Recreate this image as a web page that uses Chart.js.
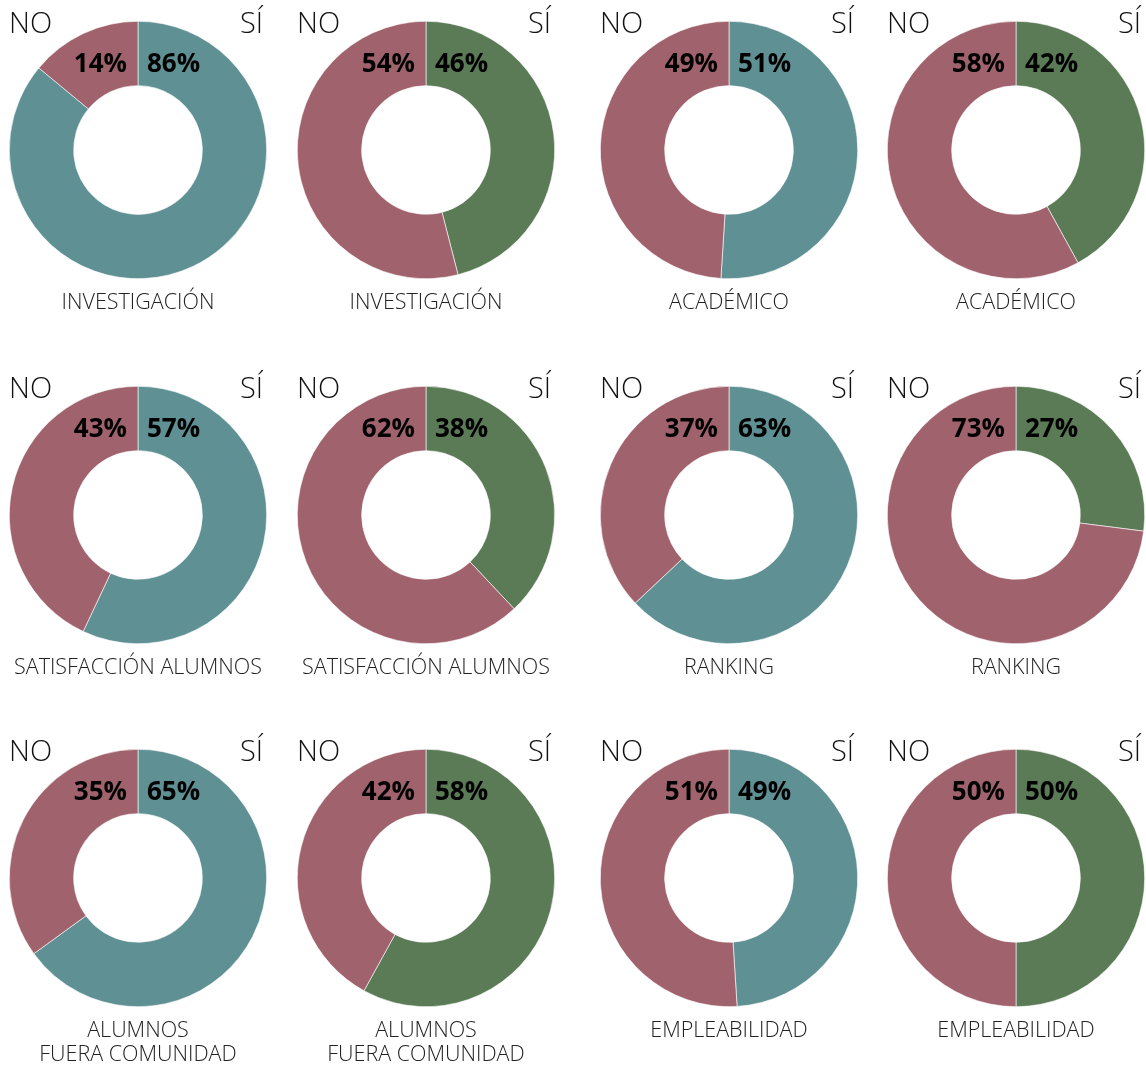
<!DOCTYPE html>
<html><head><meta charset="utf-8">
<script src="https://cdn.jsdelivr.net/npm/chart.js@4"></script>
<style>
html,body{margin:0;padding:0;background:#fff;overflow:hidden;width:1146px;height:1067px;}
.cell{position:absolute;width:280px;height:360px;}
</style></head><body>
<script>
const titles = ["INVESTIGACIÓN","INVESTIGACIÓN","ACADÉMICO","ACADÉMICO",
  "SATISFACCIÓN ALUMNOS","SATISFACCIÓN ALUMNOS","RANKING","RANKING",
  "ALUMNOS\nFUERA COMUNIDAD","ALUMNOS\nFUERA COMUNIDAD","EMPLEABILIDAD","EMPLEABILIDAD"];
const siValues = [86,46,51,42, 57,38,63,27, 65,58,49,50];
const noValues = [14,54,49,58, 43,62,37,73, 35,42,51,50];
const labelSi = "SÍ";
const labelNo = "NO";

const centersX = [138,425.5,728.5,1016];
const centersY = [150,515,878];
const colorA = "#5e9094";
const colorB = "#5b7a56";
const colorNo = "#a0636d";
const R = 129;

const textPlugin = {
  id:'txt',
  afterDraw(chart){
    const ctx = chart.ctx;
    const arc = chart.getDatasetMeta(0).data[0];
    const cx = arc.x, cy = arc.y;
    const i = chart.options.plugins.txt.idx;
    ctx.save();
    ctx.fillStyle = "#111";
    ctx.textBaseline = "alphabetic";
    ctx.font = "300 29px 'Open Sans', sans-serif";
    ctx.textAlign = "left";
    ctx.fillText(labelNo, cx-129, cy-117);
    ctx.textAlign = "right";
    ctx.fillText(labelSi, cx+125, cy-117);
    ctx.font = "bold 26px 'Open Sans', sans-serif";
    ctx.fillStyle = "#000";
    ctx.textAlign = "right";
    ctx.fillText(noValues[i]+"%", cx-11, cy-78);
    ctx.textAlign = "left";
    ctx.fillText(siValues[i]+"%", cx+9, cy-78);
    ctx.font = "300 21.5px 'Open Sans', sans-serif";
    ctx.fillStyle = "#222";
    ctx.textAlign = "center";
    const lines = titles[i].split("\n");
    lines.forEach((l,k)=>ctx.fillText(l, cx, cy+159+k*24));
    ctx.restore();
  }
};

for(let i=0;i<12;i++){
  const col = i%4, row = Math.floor(i/4);
  const cx = centersX[col], cy = centersY[row];
  const div = document.createElement('div');
  div.className='cell';
  div.style.left = (cx-140)+'px';
  div.style.top = (cy-150)+'px';
  const cv = document.createElement('canvas');
  div.appendChild(cv);
  document.body.appendChild(div);
  new Chart(cv,{
    type:'doughnut',
    data:{labels:[labelSi,labelNo],datasets:[{
      data:[siValues[i],noValues[i]],
      backgroundColor:[col%2===0?colorA:colorB, colorNo],
      borderColor:'#ffffff', borderWidth:0.6
    }]},
    options:{
      responsive:true, maintainAspectRatio:false, animation:false,
      cutout:'50%',
      layout:{padding:{left:140-R,right:140-R,top:150-R,bottom:360-150-R}},
      plugins:{legend:{display:false},tooltip:{enabled:false},txt:{idx:i}}
    },
    plugins:[textPlugin]
  });
}
</script>
</body></html>
